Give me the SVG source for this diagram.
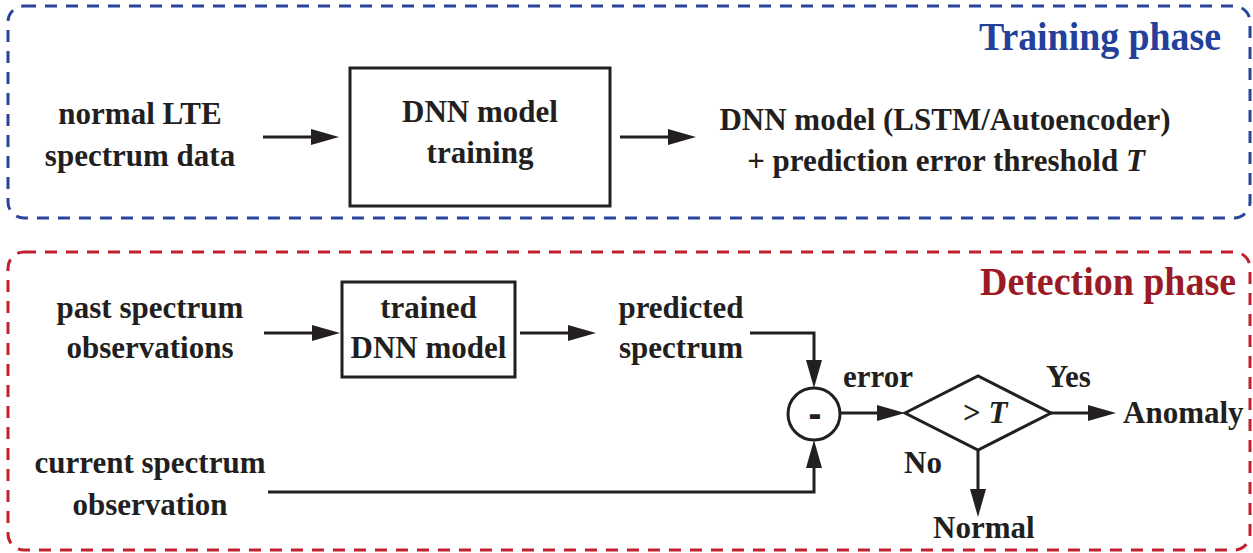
<svg xmlns="http://www.w3.org/2000/svg" width="1253" height="553" viewBox="0 0 1253 553">
<style>
  .t { font-family: "Liberation Serif", "Times New Roman", serif; font-weight: bold; font-size: 31px; fill: #231f20; }
  .c { text-anchor: middle; }
  .box { fill: none; stroke: #231f20; stroke-width: 3; }
  .ln { fill: none; stroke: #231f20; stroke-width: 3; }
  .phase { font-family: "Liberation Serif", "Times New Roman", serif; font-weight: bold; font-size: 40px; }
</style>
<defs>
  <marker id="ah" viewBox="0 0 28 16" refX="18" refY="8" markerWidth="28" markerHeight="16" markerUnits="userSpaceOnUse" orient="auto">
    <path d="M0,0 L28,8 L0,16 Z" fill="#231f20"/>
  </marker>
</defs>
<rect width="1253" height="553" fill="#ffffff"/>

<g id="training-phase">
  <rect x="8" y="6" width="1242" height="212" rx="16" fill="none" stroke="#2a449a" stroke-width="3" stroke-dasharray="12 9"/>
  <text class="phase" x="979" y="50" fill="#23409a" textLength="242" lengthAdjust="spacingAndGlyphs">Training phase</text>
</g>
<g id="detection-phase">
  <rect x="8" y="252" width="1242" height="298" rx="16" fill="none" stroke="#c3202f" stroke-width="3" stroke-dasharray="12 9"/>
  <text class="phase" x="980" y="295" fill="#9b1b24" textLength="256" lengthAdjust="spacingAndGlyphs">Detection phase</text>
</g>

<g id="normal-data">
  <text class="t c" x="140" y="124">normal LTE</text>
  <text class="t c" x="140" y="166">spectrum data</text>
</g>
<g id="dnn-training">
  <rect class="box" x="350" y="68" width="260" height="138"/>
  <text class="t c" x="480" y="122">DNN model</text>
  <text class="t c" x="480" y="163">training</text>
</g>
<g id="dnn-output">
  <text class="t c" x="945" y="130">DNN model (LSTM/Autoencoder)</text>
  <text class="t c" x="946" y="171">+ prediction error threshold <tspan font-style="italic">T</tspan></text>
</g>

<g id="past-obs">
  <text class="t c" x="150" y="318">past spectrum</text>
  <text class="t c" x="150" y="358">observations</text>
</g>
<g id="trained-dnn">
  <rect class="box" x="342" y="282" width="173" height="95"/>
  <text class="t c" x="428.5" y="318">trained</text>
  <text class="t c" x="428.5" y="358">DNN model</text>
</g>
<g id="predicted">
  <text class="t c" x="681" y="318">predicted</text>
  <text class="t c" x="681" y="358">spectrum</text>
</g>
<g id="current-obs">
  <text class="t c" x="150" y="473">current spectrum</text>
  <text class="t c" x="150" y="515">observation</text>
</g>
<g id="subtract">
  <circle class="box" cx="814" cy="414" r="26"/>
  <text class="t c" x="815" y="424" font-size="40" stroke="#231f20" stroke-width="2">-</text>
</g>
<g id="threshold">
  <polygon class="box" points="905,413 978,376 1051,413 978,450"/>
  <text class="t" x="963" y="423">&gt; <tspan font-style="italic">T</tspan></text>
</g>
<g id="anomaly">
  <text class="t" x="1123" y="423">Anomaly</text>
</g>
<g id="normal">
  <text class="t" x="933" y="538">Normal</text>
</g>

<g id="connectors">
  <line class="ln" x1="263" y1="137" x2="329" y2="137" marker-end="url(#ah)"/>
  <line class="ln" x1="620" y1="137" x2="686" y2="137" marker-end="url(#ah)"/>
  <line class="ln" x1="264" y1="333" x2="330" y2="333" marker-end="url(#ah)"/>
  <line class="ln" x1="520" y1="333" x2="586" y2="333" marker-end="url(#ah)"/>
  <path class="ln" d="M750,333 H814 V378" marker-end="url(#ah)"/>
  <path class="ln" d="M268,492 H814 V450" marker-end="url(#ah)"/>
  <line class="ln" x1="840" y1="413" x2="895" y2="413" marker-end="url(#ah)"/>
  <line class="ln" x1="1051" y1="413" x2="1106" y2="413" marker-end="url(#ah)"/>
  <line class="ln" x1="978" y1="450" x2="978" y2="507" marker-end="url(#ah)"/>
  <text class="t" x="843" y="387">error</text>
  <text class="t" x="1046" y="387">Yes</text>
  <text class="t" x="904" y="473">No</text>
</g>
</svg>
